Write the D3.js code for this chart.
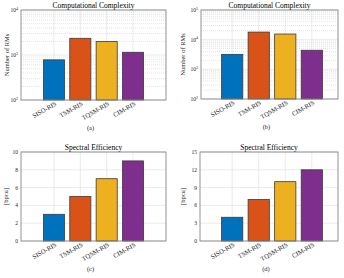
<!DOCTYPE html>
<html>
<head>
<meta charset="utf-8">
<script src="https://cdn.jsdelivr.net/npm/d3@7"></script>
<style>
  body { margin: 0; background: #fff; }
  text { font-family: "Liberation Serif", "DejaVu Serif", serif; fill: #262626; }
</style>
</head>
<body>
<div id="chart"></div>
<script>
// categories and values
const categories = ['SISO-RIS', 'TSM-RIS', 'TQSM-RIS', 'CIM-RIS'];
const complexityA = [780, 2350, 2000, 1150];
const complexityB = [3200, 18000, 15500, 4400];
const efficiencyC = [3, 5, 7, 9];
const efficiencyD = [4, 7, 10, 12];

const logTicksA = [1e2, 1e3, 1e4];
const logTicksB = [1e2, 1e3, 1e4, 1e5];
const linTicksC = [0, 2, 4, 6, 8, 10];
const linTicksD = [0, 3, 6, 9, 12, 15];

const colors = ['#0072BD', '#D95319', '#EDB120', '#7E2F8E'];

const svg = d3.select('#chart')
  .append('svg')
  .attr('width', 344)
  .attr('height', 278);

// one panel of the 2x2 figure
function panel(opt) {
  const g = svg.append('g');
  const xr = opt.xr || [opt.x0, opt.x1];
  const xScale = d3.scalePoint()
    .domain(categories)
    .range(xr)
    .padding(1.25);
  const step = xScale.step();

  let yScale;
  if (opt.log) {
    yScale = d3.scaleLog().domain(opt.domain).range([opt.y1, opt.y0]);
  } else {
    yScale = d3.scaleLinear().domain(opt.domain).range([opt.y1, opt.y0]);
  }

  // grid
  if (opt.log) {
    const minor = [];
    for (let e = Math.log10(opt.domain[0]); e < Math.log10(opt.domain[1]); e++) {
      for (let m = 2; m <= 9; m++) minor.push(m * Math.pow(10, e));
    }
    g.selectAll('.minor')
      .data(minor)
      .enter()
      .append('line')
      .attr('x1', opt.x0)
      .attr('x2', opt.x1)
      .attr('y1', d => yScale(d))
      .attr('y2', d => yScale(d))
      .style('stroke', '#d4d4d4')
      .style('stroke-width', 0.6)
      .style('stroke-dasharray', '1,1');
  }
  g.selectAll('.hgrid')
    .data(opt.ticks)
    .enter()
    .append('line')
    .attr('x1', opt.x0)
    .attr('x2', opt.x1)
    .attr('y1', d => yScale(d))
    .attr('y2', d => yScale(d))
    .style('stroke', '#e2e2e2')
    .style('stroke-width', 0.7);
  g.selectAll('.vgrid')
    .data(categories)
    .enter()
    .append('line')
    .attr('x1', d => xScale(d))
    .attr('x2', d => xScale(d))
    .attr('y1', opt.y0)
    .attr('y2', opt.y1)
    .style('stroke', '#e2e2e2')
    .style('stroke-width', 0.7);

  // bars
  const bw = step * 0.8;
  g.selectAll('.bar')
    .data(opt.values)
    .enter()
    .append('rect')
    .attr('x', (d, i) => xScale(categories[i]) - bw / 2)
    .attr('y', d => yScale(d))
    .attr('width', bw)
    .attr('height', d => opt.y1 - yScale(d))
    .style('fill', (d, i) => colors[i])
    .style('stroke', '#3a3a3a')
    .style('stroke-width', 0.8);

  // frame
  g.append('rect')
    .attr('x', opt.x0)
    .attr('y', opt.y0)
    .attr('width', opt.x1 - opt.x0)
    .attr('height', opt.y1 - opt.y0)
    .style('fill', 'none')
    .style('stroke', '#888')
    .style('stroke-width', 0.9);

  // y ticks
  const yt = g.selectAll('.ytick')
    .data(opt.ticks)
    .enter()
    .append('text')
    .attr('x', opt.x0 - 3)
    .attr('y', d => yScale(d) + 2)
    .attr('text-anchor', 'end')
    .style('font-size', '5.5px');
  if (opt.log) {
    yt.text('10');
    yt.append('tspan')
      .attr('dy', -2.2)
      .style('font-size', '4px')
      .text(d => Math.round(Math.log10(d)));
  } else {
    yt.text(d => d);
  }

  // x labels
  g.selectAll('.xlab')
    .data(categories)
    .enter()
    .append('text')
    .attr('transform', d => `translate(${xScale(d) + 3},${opt.y1 + 5}) rotate(-30)`)
    .attr('text-anchor', 'end')
    .style('font-size', '6.5px')
    .text(d => d);

  // title
  g.append('text')
    .attr('x', (opt.x0 + opt.x1) / 2)
    .attr('y', opt.y0 - 2.5)
    .attr('text-anchor', 'middle')
    .style('font-size', '7.5px')
    .style('fill', '#000')
    .text(opt.title);

  // y label
  g.append('text')
    .attr('transform', `translate(${opt.ylx},${(opt.y0 + opt.y1) / 2}) rotate(-90)`)
    .attr('text-anchor', 'middle')
    .style('font-size', '6.5px')
    .text(opt.ylabel);

  // caption
  g.append('text')
    .attr('x', (opt.x0 + opt.x1) / 2 - 3)
    .attr('y', opt.y1 + 30)
    .attr('text-anchor', 'middle')
    .style('font-size', '6.5px')
    .text(opt.caption);
}

panel({ x0: 21, x1: 166, y0: 10, y1: 100, log: true, domain: [1e2, 1e4],
  ticks: logTicksA, values: complexityA, title: 'Computational Complexity',
  ylabel: 'Number of RMs', ylx: 9, caption: '(a)' });
panel({ x0: 201, x1: 338, xr: [199, 345], y0: 10, y1: 99, log: true, domain: [1e2, 1e5],
  ticks: logTicksB, values: complexityB, title: 'Computational Complexity',
  ylabel: 'Number of RMs', ylx: 185, caption: '(b)' });
panel({ x0: 21, x1: 166, y0: 152, y1: 241, log: false, domain: [0, 10],
  ticks: linTicksC, values: efficiencyC, title: 'Spectral Efficiency',
  ylabel: '[bpcu]', ylx: 8, caption: '(c)' });
panel({ x0: 200, x1: 338, xr: [199, 345], y0: 152, y1: 241, log: false, domain: [0, 15],
  ticks: linTicksD, values: efficiencyD, title: 'Spectral Efficiency',
  ylabel: '[bpcu]', ylx: 185, caption: '(d)' });
</script>
</body>
</html>
